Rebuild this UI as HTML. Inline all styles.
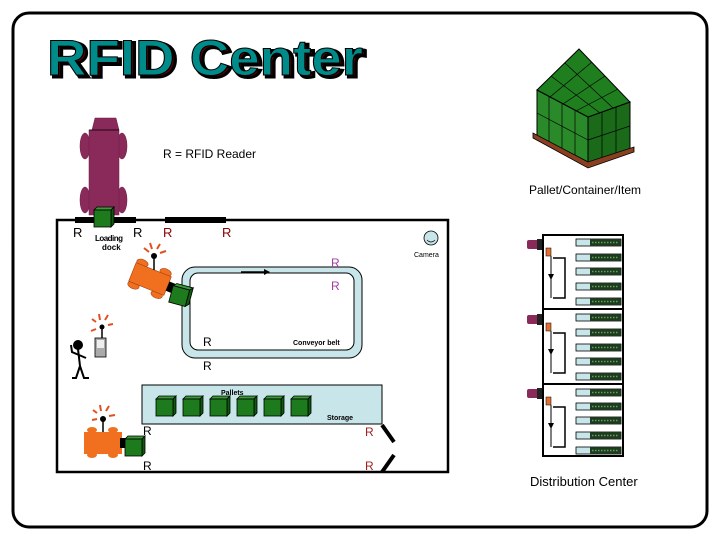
<!DOCTYPE html>
<html><head><meta charset="utf-8"><style>
html,body{margin:0;padding:0;background:#fff;}
svg{display:block;font-family:"Liberation Sans",sans-serif;}
</style></head><body>
<svg width="720" height="540" viewBox="0 0 720 540" xmlns="http://www.w3.org/2000/svg">
<defs>
<g id="box">
  <polygon points="0,3 3,0 20,0 17,3" fill="#3a9a3a" stroke="#000" stroke-width="0.8"/>
  <polygon points="17,3 20,0 20,17 17,20" fill="#0f5a0f" stroke="#000" stroke-width="0.8"/>
  <rect x="0" y="3" width="17" height="17" fill="#1d7a1d" stroke="#000" stroke-width="0.8"/>
</g>
<g id="rack">
  <rect x="0" y="0" width="45" height="7" fill="#c8e6ea" stroke="#000" stroke-width="0.8"/>
  <rect x="14" y="0.5" width="31" height="6" fill="#1b3d1b"/>
  <line x1="16" y1="3.5" x2="43" y2="3.5" stroke="#6a9a6a" stroke-width="1.5" stroke-dasharray="1.5,1.5"/>
</g>
<g id="dock">
  <rect x="0" y="0" width="12" height="9" rx="2" fill="#8a2a5a"/>
  <rect x="10" y="-1" width="5" height="11" fill="#222"/>
  <rect x="19" y="8" width="5" height="8" fill="#e07030" stroke="#000" stroke-width="0.5"/>
  <line x1="24" y1="16" x2="24" y2="58" stroke="#000" stroke-width="1"/>
  <path d="M26,18 h12 v40 h-12" fill="none" stroke="#000" stroke-width="1.5"/>
  <polygon points="21,34 27,34 24,40" fill="#000"/>
</g>
</defs>

<rect x="13" y="13" width="694" height="514" rx="16" fill="#fff" stroke="#000" stroke-width="3"/>

<text x="50" y="77" font-size="50" font-weight="bold" textLength="316" lengthAdjust="spacingAndGlyphs" fill="#5a0000" stroke="#000" stroke-width="3">RFID Center</text>
<text x="47" y="75" font-size="50" font-weight="bold" textLength="316" lengthAdjust="spacingAndGlyphs" fill="#008b8b" stroke="#000" stroke-width="1">RFID Center</text>

<text x="163" y="158" font-size="12">R = RFID Reader</text>
<text x="529" y="194" font-size="12">Pallet/Container/Item</text>

<!-- pallet -->
<polygon points="537,90 588,117 588,162 537,136" fill="#2a8a2a" stroke="#000"/>
<polygon points="588,117 630,102 630,150 588,164" fill="#1a6a1a" stroke="#000"/>
<polygon points="579,49 630,102 588,117 537,90" fill="#1f7f1f" stroke="#000"/>
<g stroke="#000" stroke-width="0.7" fill="none">
<line x1="565" y1="63" x2="613" y2="108"/><line x1="551" y1="76" x2="600" y2="113"/>
<line x1="592" y1="62" x2="550" y2="97"/><line x1="605" y1="76" x2="563" y2="104"/><line x1="618" y1="89" x2="576" y2="111"/>
<line x1="537" y1="113" x2="588" y2="140"/><line x1="549" y1="97" x2="549" y2="143"/><line x1="562" y1="103" x2="562" y2="150"/><line x1="575" y1="110" x2="575" y2="157"/>
<line x1="588" y1="140" x2="630" y2="126"/><line x1="602" y1="112" x2="602" y2="160"/><line x1="616" y1="107" x2="616" y2="155"/>
</g>
<polygon points="533,138 588,168 634,152 634,147 588,162 533,133" fill="#8a4020" stroke="#000" stroke-width="0.8"/>

<!-- truck -->
<g fill="#8a2a5a" stroke="#6a1a44" stroke-width="0.5">
<ellipse cx="85" cy="146" rx="5" ry="13"/><ellipse cx="122" cy="146" rx="5" ry="13"/>
<ellipse cx="85" cy="200" rx="5" ry="13"/><ellipse cx="122" cy="200" rx="5" ry="13"/>
<polygon points="92,130 95,118 116,118 119,130"/>
<rect x="89" y="130" width="30" height="85"/>
</g>
<line x1="89" y1="130" x2="119" y2="130" stroke="#000" stroke-width="0.8"/>

<!-- room walls -->
<path d="M57,472 V220 H448 V472 Z" fill="none" stroke="#000" stroke-width="2.5"/>
<line x1="75" y1="220" x2="136" y2="220" stroke="#000" stroke-width="6"/>
<line x1="165" y1="220" x2="226" y2="220" stroke="#000" stroke-width="6"/>
<use href="#box" x="94" y="207"/>

<text x="73" y="237" font-size="13">R</text>
<text x="133" y="237" font-size="13">R</text>
<text x="163" y="237" font-size="13" fill="#8a0000">R</text>
<text x="222" y="237" font-size="13" fill="#8a0000">R</text>
<text x="95" y="241" font-size="8" font-weight="bold" textLength="28">Loading</text>
<text x="102" y="250" font-size="8" font-weight="bold">dock</text>

<!-- camera -->
<circle cx="431" cy="238" r="7" fill="#c8e6ea" stroke="#000" stroke-width="0.8"/>
<path d="M427,240 q4,4 8,0" fill="none" stroke="#000" stroke-width="0.7"/>
<text x="414" y="257" font-size="7">Camera</text>

<!-- conveyor -->
<rect x="182" y="267" width="180" height="91" rx="13" fill="#c8e6ea" stroke="#000" stroke-width="1"/>
<rect x="190" y="273" width="164" height="77" rx="8" fill="#fff" stroke="#000" stroke-width="1"/>
<line x1="241" y1="272" x2="264" y2="272" stroke="#000" stroke-width="1.5"/>
<polygon points="264,269 270,272 264,275" fill="#000"/>
<text x="331" y="267" font-size="12" fill="#a040a0">R</text>
<text x="331" y="290" font-size="12" fill="#a040a0">R</text>
<text x="203" y="346" font-size="12">R</text>
<text x="293" y="345" font-size="7" font-weight="bold">Conveyor belt</text>
<text x="203" y="370" font-size="12">R</text>

<!-- forklift 1 -->
<g transform="translate(150,279) rotate(22)">
<ellipse cx="-13" cy="-12" rx="6" ry="3.5" fill="#f07020" stroke="#a04010" stroke-width="0.5"/><ellipse cx="12" cy="-12" rx="6" ry="3.5" fill="#f07020" stroke="#a04010" stroke-width="0.5"/>
<ellipse cx="-13" cy="12" rx="6" ry="3.5" fill="#f07020" stroke="#a04010" stroke-width="0.5"/><ellipse cx="12" cy="12" rx="6" ry="3.5" fill="#f07020" stroke="#a04010" stroke-width="0.5"/>
<rect x="-19" y="-10" width="38" height="20" fill="#f07020" stroke="#a04010" stroke-width="0.6"/>
<rect x="19" y="-5" width="6" height="10" fill="#000"/>
</g>
<line x1="154" y1="270" x2="154" y2="256" stroke="#000" stroke-width="1.5"/><circle cx="154" cy="256" r="3" fill="#000"/>
<g stroke="#e05020" stroke-width="2"><line x1="149" y1="252" x2="144" y2="248"/><line x1="152" y1="249" x2="150" y2="243"/><line x1="157" y1="249" x2="160" y2="244"/><line x1="160" y1="253" x2="166" y2="251"/></g>
<g transform="translate(181,295) rotate(15)"><use href="#box" x="-10" y="-10"/></g>

<!-- person + handheld -->
<g stroke="#000" stroke-width="2" fill="none">
<circle cx="78" cy="345" r="4" fill="#000"/>
<path d="M78,349 L80,366 M80,366 L76,378 L72,378 M80,366 L84,378 L89,378 M79,355 L72,352 L71,345 M79,355 L86,358"/>
</g>
<rect x="95" y="338" width="11" height="19" fill="#aaa" stroke="#000" stroke-width="0.8"/>
<rect x="97" y="340" width="7" height="8" fill="#eee"/>
<line x1="102" y1="338" x2="102" y2="328" stroke="#000" stroke-width="1.5"/><circle cx="102" cy="327" r="2.5" fill="#000"/>
<g stroke="#e05020" stroke-width="2"><line x1="96" y1="322" x2="92" y2="319"/><line x1="100" y1="320" x2="99" y2="314"/><line x1="105" y1="320" x2="108" y2="315"/><line x1="108" y1="325" x2="113" y2="324"/><line x1="96" y1="329" x2="91" y2="331"/></g>

<!-- storage -->
<rect x="142" y="385" width="240" height="39" fill="#c8e6ea" stroke="#000" stroke-width="1"/>
<text x="221" y="395" font-size="7" font-weight="bold">Pallets</text>
<text x="327" y="420" font-size="7" font-weight="bold">Storage</text>
<use href="#box" x="156" y="396"/><use href="#box" x="183" y="396"/><use href="#box" x="210" y="396"/>
<use href="#box" x="237" y="396"/><use href="#box" x="264" y="396"/><use href="#box" x="291" y="396"/>
<text x="143" y="435" font-size="12">R</text>
<text x="143" y="470" font-size="12">R</text>
<text x="365" y="436" font-size="12" fill="#a02020">R</text>
<text x="365" y="470" font-size="12" fill="#a02020">R</text>
<line x1="382" y1="425" x2="394" y2="442" stroke="#000" stroke-width="4"/>
<line x1="382" y1="472" x2="394" y2="455" stroke="#000" stroke-width="4"/>

<!-- forklift 2 -->
<ellipse cx="92" cy="430" rx="5" ry="3" fill="#f07020"/><ellipse cx="113" cy="430" rx="5" ry="3" fill="#f07020"/>
<ellipse cx="92" cy="455" rx="5" ry="3" fill="#f07020"/><ellipse cx="113" cy="455" rx="5" ry="3" fill="#f07020"/>
<rect x="84" y="432" width="38" height="22" fill="#f07020"/>
<rect x="120" y="438" width="6" height="10" fill="#000"/>
<line x1="103" y1="432" x2="103" y2="420" stroke="#000" stroke-width="1.5"/><circle cx="103" cy="419" r="3" fill="#000"/>
<g stroke="#e05020" stroke-width="2"><line x1="97" y1="413" x2="93" y2="410"/><line x1="101" y1="411" x2="100" y2="405"/><line x1="106" y1="411" x2="109" y2="406"/><line x1="109" y1="416" x2="115" y2="415"/><line x1="97" y1="419" x2="92" y2="420"/></g>
<use href="#box" x="125" y="436"/>

<!-- distribution center -->
<rect x="543" y="235" width="80" height="221" fill="#fff" stroke="#000" stroke-width="2"/>
<line x1="543" y1="309" x2="623" y2="309" stroke="#000" stroke-width="2"/>
<line x1="543" y1="384" x2="623" y2="384" stroke="#000" stroke-width="2"/>
<g>
<use href="#rack" x="576" y="239"/><use href="#rack" x="576" y="254"/><use href="#rack" x="576" y="268"/><use href="#rack" x="576" y="283"/><use href="#rack" x="576" y="298"/>
<use href="#rack" x="576" y="314"/><use href="#rack" x="576" y="329"/><use href="#rack" x="576" y="344"/><use href="#rack" x="576" y="358"/><use href="#rack" x="576" y="373"/>
<use href="#rack" x="576" y="389"/><use href="#rack" x="576" y="403"/><use href="#rack" x="576" y="417"/><use href="#rack" x="576" y="432"/><use href="#rack" x="576" y="447"/>
</g>
<use href="#dock" x="527" y="240"/>
<use href="#dock" x="527" y="315"/>
<use href="#dock" x="527" y="389"/>
<text x="530" y="486" font-size="13">Distribution Center</text>
</svg>
</body></html>
